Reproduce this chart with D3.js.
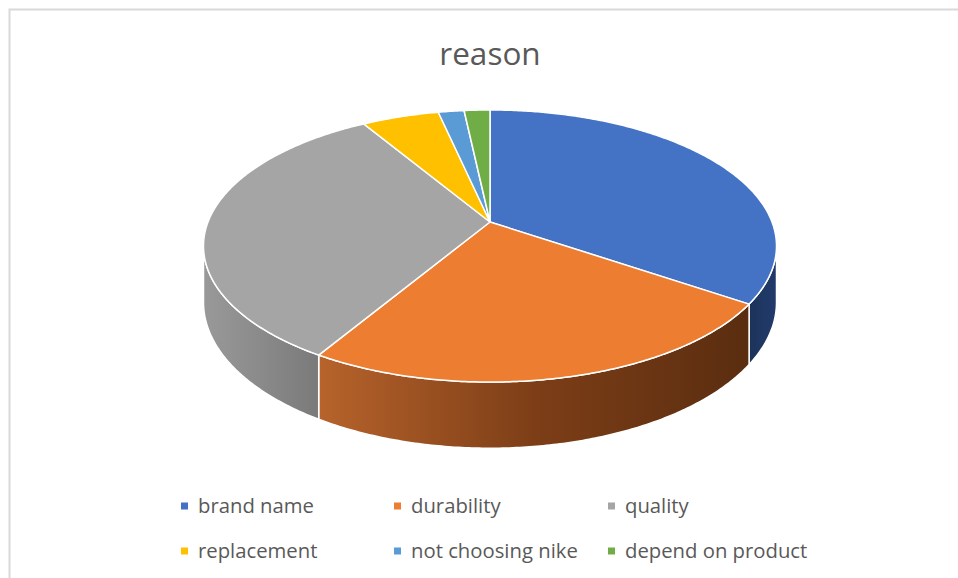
<!DOCTYPE html>
<html><head><meta charset="utf-8">
<script src="https://cdn.jsdelivr.net/npm/d3@7/dist/d3.min.js"></script>
<style>body{margin:0;background:#fff;}svg{display:block;}</style>
</head><body>
<svg id="chart" width="958" height="578"></svg>
<script>
const title = "reason";
const categories = ["brand name","durability","quality","replacement","not choosing nike","depend on product"];
const values = [20,14,19,3,1,1];
const colors = ["#4472c4","#ed7d31","#a5a5a5","#ffc000","#5b9bd5","#70ad47"];
// wall gradient stops per slice [left colour, mid, right colour]
const wallShades = [["#1c3258","#1f3864","#22396a"],["#b7632b","#7d3e17","#5a2d10"],["#999999","#8a8a8a","#7a7a7a"],["#bf9000","#a67c00","#8a6700"],["#2e75b6","#255e93","#1f4e79"],["#548235","#456b2b","#385723"]];

const svg = d3.select("#chart");

// chart frame
svg.append("path").attr("d","M9.5,960 V9.5 H960").attr("fill","none").attr("stroke","#d9d9d9").attr("stroke-width",2);

svg.append("text").attr("x",490).attr("y",65).attr("text-anchor","middle")
  .attr("font-family","'Open Sans', sans-serif").attr("font-size",31.5).attr("fill","#595959").text(title);

// perspective pie projection
const cx = 490, cy = 222, R = 282, RY = 131.8, DEPTH = 54.5, K = 0.1765;
function P(theta, h){
  const u = Math.sin(theta), v = -Math.cos(theta), den = 1 - K*v;
  return [cx + R*u/den, cy + (RY*v + h*DEPTH)/den];
}
const thR = Math.acos(-K), thL = 2*Math.PI - Math.acos(-K);

const pie = d3.pie().sort(null).value(d=>d).startAngle(0).endAngle(2*Math.PI);
const arcs = pie(values);
const color = d3.scaleOrdinal().domain(categories).range(colors);
const line = d3.line();

function arcPts(a0,a1,h){
  const n = Math.max(2, Math.ceil((a1-a0)/0.01));
  return d3.range(n+1).map(i=>P(a0+(a1-a0)*i/n,h));
}

const defs = svg.append("defs");
const gWalls = svg.append("g"), gTops = svg.append("g");

arcs.forEach((a,i)=>{
  const s = Math.max(a.startAngle, thR), e = Math.min(a.endAngle, thL);
  if (e > s){
    const top = arcPts(s,e,0), bot = arcPts(s,e,1).reverse();
    const xs = top.map(p=>p[0]);
    const x0 = d3.min(xs), x1 = d3.max(xs);
    const gid = "wg"+i;
    const gr = defs.append("linearGradient").attr("id",gid).attr("gradientUnits","userSpaceOnUse")
      .attr("x1",x0).attr("x2",x1).attr("y1",0).attr("y2",0);
    wallShades[i].forEach((c,j)=>gr.append("stop").attr("offset",j/2).attr("stop-color",c));
    gWalls.append("path").attr("d", line(top.concat(bot))+"Z")
      .attr("fill",`url(#${gid})`).attr("stroke","#ffffff").attr("stroke-width",1.5).attr("stroke-linejoin","round");
  }
  const pts = [[cx,cy]].concat(arcPts(a.startAngle,a.endAngle,0));
  gTops.append("path").attr("d", line(pts)+"Z").attr("fill",color(categories[i]))
    .attr("stroke","#ffffff").attr("stroke-width",1.5).attr("stroke-linejoin","round");
});

// legend
const legX = [181,394,608], legY = [506,551];
const leg = svg.append("g").attr("font-family","'Open Sans', sans-serif").attr("font-size",20.3).attr("fill","#595959");
categories.forEach((c,i)=>{
  const x = legX[i%3], y = legY[Math.floor(i/3)];
  leg.append("rect").attr("x",x).attr("y",y-3.5).attr("width",7).attr("height",7).attr("fill",color(c));
  leg.append("text").attr("x",x+17).attr("y",y+7).text(c);
});
</script>
</body></html>
